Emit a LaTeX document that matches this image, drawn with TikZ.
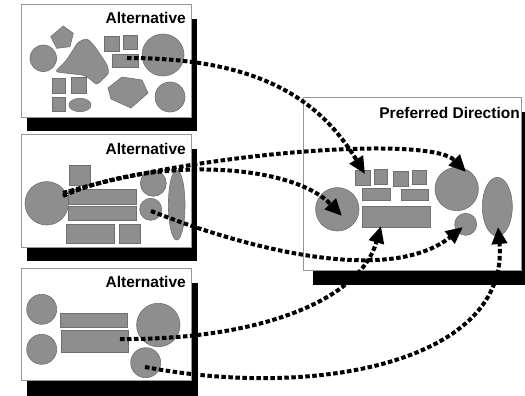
\documentclass[tikz,border=0pt]{standalone}
\usepackage{fontspec}
\setmainfont{Liberation Sans}
\usetikzlibrary{arrows.meta}
\definecolor{shapegray}{RGB}{142,142,142}
\definecolor{shapeedge}{RGB}{112,112,112}
\definecolor{boxgray}{RGB}{150,150,150}
\tikzset{
  shp/.style={fill=shapegray, draw=shapeedge, line width=0.6pt},
  panelbox/.style={fill=white, draw=boxgray, line width=0.8pt},
  shadowbox/.style={fill=black},
  paneltitle/.style={font=\bfseries\fontsize{15.5}{18}\selectfont, inner sep=0pt, anchor=base east},
  flow/.style={line width=4pt, dash pattern=on 4.5pt off 2.5pt, -{Triangle[length=17pt,width=15pt]}}
}
\begin{document}
\begin{tikzpicture}[x=1pt,y=-1pt]
\useasboundingbox (0,0) rectangle (525,396);
% ---------- panel 1 ----------
\fill[shadowbox] (27,19) rectangle (197,131);
\draw[panelbox] (21,4) rectangle (191,117);
\node[paneltitle] (t1) at (186,23.3) {Alternative};
\path[shp] (43.3,58.3) circle (13.3);
\path[shp] (63.3,26) -- (73.3,33.3) -- (70,46.7) -- (56.7,48.3) -- (50.7,36.7) -- cycle;
\path[shp, rounded corners=3pt] (55,71.7) -- (66.7,60) -- (78.3,41.7) -- (87.3,38.3) -- (95,46.7) -- (107.3,65) -- (109,73.3) -- (96.7,85) -- (89.3,78.3) -- (83.3,75) -- (66.7,73.3) -- cycle;
\path[shp] (104,36) rectangle (119,51);
\path[shp] (123,35) rectangle (137,49);
\path[shp] (112,54) rectangle (138,67);
\path[shp] (163,55) circle (21);
\path[shp] (170,97) circle (15);
\path[shp] (108,88) -- (122,77) -- (142,80) -- (148,93) -- (131,108) -- (111,99) -- cycle;
\path[shp] (52,78) rectangle (65,93);
\path[shp] (71,77) rectangle (86,93);
\path[shp] (52,97) rectangle (65,111);
\path[shp] (80,105) ellipse (11 and 6.7);
\coordinate (s1) at (127,58);
% ---------- panel 2 ----------
\fill[shadowbox] (27,149) rectangle (197,261);
\draw[panelbox] (21,134) rectangle (191,247);
\node[paneltitle] (t2) at (186,154) {Alternative};
\path[shp] (69,165) rectangle (90,185);
\path[shp] (68,189.3) rectangle (136,204);
\path[shp] (68,206.7) rectangle (136,220.7);
\path[shp] (66.7,224) rectangle (114.3,243.3);
\path[shp] (119,224) rectangle (140,243.3);
\path[shp] (46.7,203.3) circle (21.7);
\path[shp] (153.3,183.3) circle (13);
\path[shp] (150.7,209.3) circle (11);
\path[shp] (176.7,205) ellipse (8.3 and 35);
\coordinate (s2a) at (63,193);
\coordinate (s2b) at (63,196);
\coordinate (s2c) at (151,211);
% ---------- panel 3 ----------
\fill[shadowbox] (27,283) rectangle (198,400);
\draw[panelbox] (21,268.3) rectangle (191,380);
\node[paneltitle] (t3) at (186,287.3) {Alternative};
\path[shp] (41.7,309.3) circle (15);
\path[shp] (41.7,349.3) circle (15);
\path[shp] (60,313.3) rectangle (127.7,327.7);
\path[shp] (61,330.7) rectangle (128.3,352.3);
\path[shp] (158.3,325) circle (21.7);
\path[shp] (145.7,362.7) circle (15);
\coordinate (s3a) at (120,339);
\coordinate (s3b) at (145,367);
% ---------- preferred panel ----------
\fill[shadowbox] (313,112) rectangle (535,285);
\draw[panelbox] (303.3,97.3) rectangle (521.7,270);
\node[paneltitle] (tp) at (520,118.3) {Preferred Direction};
\path[shp] (337.3,209.3) circle (21.7);
\path[shp] (355,170) rectangle (370,185);
\path[shp] (374,169.3) rectangle (387.7,184);
\path[shp] (393.3,171.7) rectangle (408.3,186);
\path[shp] (412.3,170) rectangle (426.7,184.3);
\path[shp] (362.7,188.3) rectangle (390,200.7);
\path[shp] (401,189.3) rectangle (428.3,200.7);
\path[shp] (362.7,206) rectangle (430,227.7);
\path[shp] (456.7,189) circle (21.7);
\path[shp] (465.7,224.3) circle (11);
\path[shp] (497.3,206.7) ellipse (15 and 29.3);
\coordinate (e1) at (365,174);
\coordinate (e2a) at (466,172);
\coordinate (e2b) at (342,216);
\coordinate (e3) at (463,227);
\coordinate (e4) at (381,226);
\coordinate (e5) at (498,227);
% ---------- connectors ----------
\draw[flow] (s1) .. controls (260,58) and (320,100) .. (e1);
\draw[flow] (s2a) .. controls (200,152) and (430,135) .. (e2a);
\draw[flow] (s2b) .. controls (150,157) and (290,162) .. (e2b);
\draw[flow] (s2c) .. controls (250,250) and (390,285) .. (e3);
\draw[flow] (s3a) .. controls (260,340) and (360,300) .. (e4);
\draw[flow] (s3b) .. controls (320,400) and (510,360) .. (e5);
\end{tikzpicture}
\end{document}
